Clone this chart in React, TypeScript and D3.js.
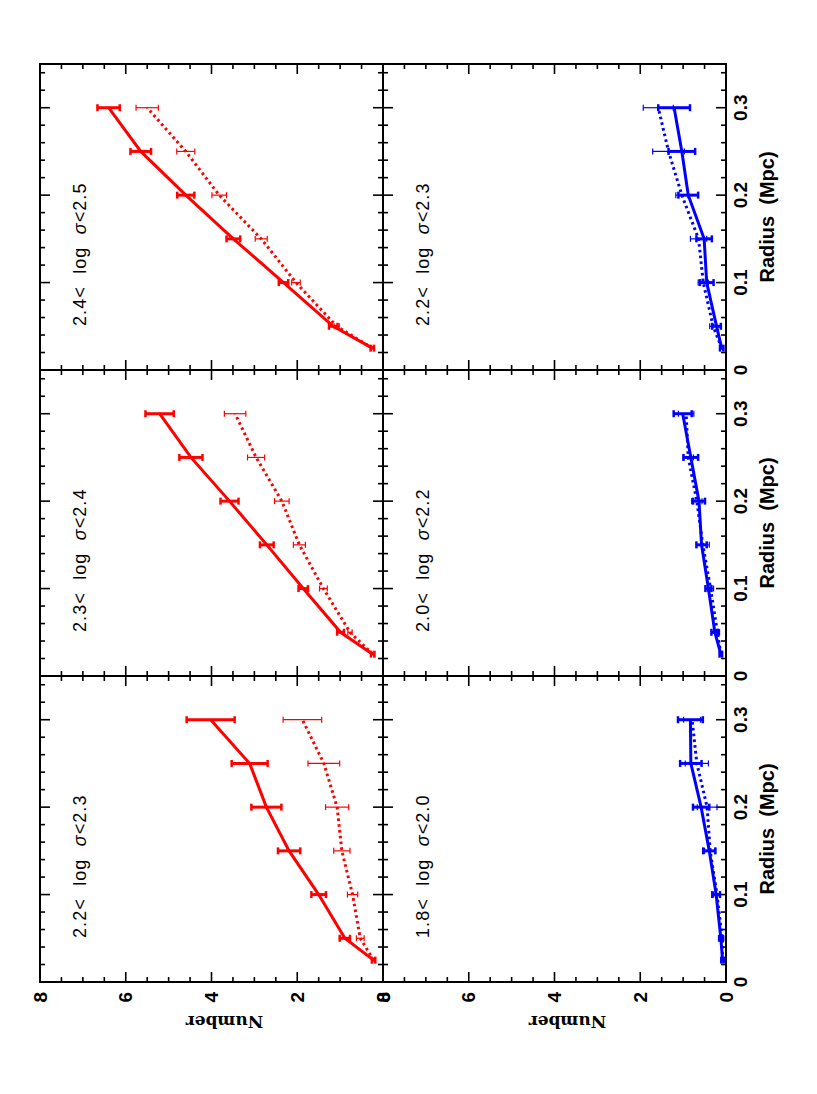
import React from 'react';
import * as d3 from 'd3';

// radius bins (Mpc)
const radius = [0.025, 0.05, 0.1, 0.15, 0.2, 0.25, 0.3];

// upper row (red) labels / lower row (blue) labels, left to right in the original landscape plot
const redLabels = ['2.2<  log  σ<2.3', '2.3<  log  σ<2.4', '2.4<  log  σ<2.5'];
const blueLabels = ['1.8<  log  σ<2.0', '2.0<  log  σ<2.2', '2.2<  log  σ<2.3'];

// red panels: solid + dotted series with errors
const redSolid1 = [0.22, 0.89, 1.5, 2.19, 2.72, 3.11, 4.02];
const redSolidErr1 = [0.04, 0.12, 0.17, 0.26, 0.35, 0.42, 0.56];
const redDot1 = [0.22, 0.53, 0.71, 0.96, 1.07, 1.38, 1.88];
const redDotErr1 = [0.03, 0.09, 0.12, 0.19, 0.27, 0.37, 0.45];

const redSolid2 = [0.24, 0.99, 1.86, 2.71, 3.58, 4.48, 5.21];
const redSolidErr2 = [0.04, 0.08, 0.11, 0.16, 0.21, 0.27, 0.33];
const redDot2 = [0.24, 0.77, 1.39, 1.95, 2.36, 2.96, 3.45];
const redDotErr2 = [0.03, 0.05, 0.09, 0.14, 0.17, 0.2, 0.25];

const redSolid3 = [0.25, 1.16, 2.32, 3.49, 4.6, 5.65, 6.4];
const redSolidErr3 = [0.04, 0.1, 0.11, 0.16, 0.2, 0.24, 0.26];
const redDot3 = [0.25, 1.08, 2.03, 2.84, 3.82, 4.6, 5.5];
const redDotErr3 = [0.03, 0.06, 0.1, 0.14, 0.17, 0.21, 0.26];

// blue panels
const blueSolid1 = [0.08, 0.12, 0.23, 0.39, 0.58, 0.82, 0.83];
const blueSolidErr1 = [0.03, 0.04, 0.09, 0.14, 0.19, 0.25, 0.29];
const blueDot1 = [0.08, 0.09, 0.21, 0.37, 0.44, 0.68, 0.79];
const blueDotErr1 = [0.02, 0.04, 0.08, 0.13, 0.23, 0.27, 0.2];

const blueSolid2 = [0.12, 0.26, 0.41, 0.57, 0.63, 0.82, 1.01];
const blueSolidErr2 = [0.03, 0.08, 0.07, 0.12, 0.14, 0.17, 0.21];
const blueDot2 = [0.12, 0.2, 0.36, 0.54, 0.68, 0.88, 0.93];
const blueDotErr2 = [0.02, 0.05, 0.07, 0.15, 0.12, 0.12, 0.18];

const blueSolid3 = [0.1, 0.22, 0.45, 0.51, 0.88, 1.03, 1.21];
const blueSolidErr3 = [0.04, 0.1, 0.16, 0.18, 0.23, 0.31, 0.37];
const blueDot3 = [0.1, 0.3, 0.53, 0.64, 1.03, 1.34, 1.58];
const blueDotErr3 = [0.03, 0.08, 0.12, 0.19, 0.14, 0.37, 0.35];

const numberTicks = [0, 2, 4, 6, 8];
const radiusTicks = [0, 0.1, 0.2, 0.3];

const RED = '#ff0000';
const BLUE = '#0000ff';

// the whole figure is a landscape plot turned 90deg counter-clockwise on the page
const colW = 306;
const rowH = 343;

const panels = [
  { col: 0, row: 0, color: RED, label: redLabels[0], solid: redSolid1, solidErr: redSolidErr1, dot: redDot1, dotErr: redDotErr1 },
  { col: 1, row: 0, color: RED, label: redLabels[1], solid: redSolid2, solidErr: redSolidErr2, dot: redDot2, dotErr: redDotErr2 },
  { col: 2, row: 0, color: RED, label: redLabels[2], solid: redSolid3, solidErr: redSolidErr3, dot: redDot3, dotErr: redDotErr3 },
  { col: 0, row: 1, color: BLUE, label: blueLabels[0], solid: blueSolid1, solidErr: blueSolidErr1, dot: blueDot1, dotErr: blueDotErr1 },
  { col: 1, row: 1, color: BLUE, label: blueLabels[1], solid: blueSolid2, solidErr: blueSolidErr2, dot: blueDot2, dotErr: blueDotErr2 },
  { col: 2, row: 1, color: BLUE, label: blueLabels[2], solid: blueSolid3, solidErr: blueSolidErr3, dot: blueDot3, dotErr: blueDotErr3 },
];

const x = d3.scaleLinear().domain([0, 0.35]).range([0, colW]);
const y = d3.scaleLinear().domain([0, 8]).range([rowH, 0]);

const xMinor = d3.range(0, 0.351, 0.02);
const yMinor = d3.range(0, 8.01, 0.5);

const Panel = ({ p }: { p: typeof panels[0] }) => {
  const line = d3.line<number>().x((_, i) => x(radius[i])).y(d => y(d));

  const errBars = (vals: number[], errs: number[], thick: boolean) =>
    vals.map((v, i) => {
      const cx = x(radius[i]);
      const y1 = y(v - errs[i]);
      const y2 = y(v + errs[i]);
      const cap = thick ? 3.5 : 3;
      return (
        <g key={i} stroke={p.color} strokeWidth={thick ? 3 : 1.2}>
          <line x1={cx} x2={cx} y1={y1} y2={y2} />
          <line x1={cx - cap} x2={cx + cap} y1={y1} y2={y1} strokeWidth={thick ? 2.5 : 1.2} />
          <line x1={cx - cap} x2={cx + cap} y1={y2} y2={y2} strokeWidth={thick ? 2.5 : 1.2} />
        </g>
      );
    });

  return (
    <g transform={`translate(${p.col * colW},${p.row * rowH})`}>
      {/* ticks */}
      <g stroke="#000" strokeWidth={1.6}>
        {xMinor.map((t, i) => {
          const len = Math.abs(t * 10 - Math.round(t * 10)) < 1e-6 ? 10 : 5;
          return (
            <g key={'x' + i}>
              <line x1={x(t)} x2={x(t)} y1={0} y2={len} />
              <line x1={x(t)} x2={x(t)} y1={rowH} y2={rowH - len} />
            </g>
          );
        })}
        {yMinor.map((t, i) => {
          const len = t % 2 === 0 ? 10 : 5;
          return (
            <g key={'y' + i}>
              <line x1={0} x2={len} y1={y(t)} y2={y(t)} />
              <line x1={colW} x2={colW - len} y1={y(t)} y2={y(t)} />
            </g>
          );
        })}
      </g>
      <rect x={0} y={0} width={colW} height={rowH} fill="none" stroke="#000" strokeWidth={2} />

      <text x={44} y={46} fontFamily="'Liberation Sans', Arial, sans-serif" fontSize={18}
        letterSpacing={1.1} style={{ whiteSpace: 'pre' }} fill="#000">
        {p.label.split('σ')[0]}
        <tspan fontStyle="italic">σ</tspan>
        {p.label.split('σ')[1]}
      </text>

      {errBars(p.dot, p.dotErr, false)}
      <path d={line(p.dot) ?? ''} fill="none" stroke={p.color} strokeWidth={3} strokeDasharray="2.6 3.2" />
      {errBars(p.solid, p.solidErr, true)}
      <path d={line(p.solid) ?? ''} fill="none" stroke={p.color} strokeWidth={3} />
    </g>
  );
};

const App = () => {
  return (
    <svg width={817} height={1094} style={{ position: 'absolute', left: 0, top: 0, background: '#fff' }}>
      <rect width={817} height={1094} fill="#fff" />
      <g transform="translate(40,982) rotate(-90)">
        {panels.map((p, i) => <Panel key={i} p={p} />)}

        {/* Number axis labels (left side of the landscape plot) */}
        {[0, 1].map(row => (
          <g key={'n' + row} transform={`translate(0,${row * rowH})`}
            fontFamily="'Liberation Sans', Arial, sans-serif" fontWeight="bold" fontSize={19}>
            {numberTicks.map(t => (
              <text key={t} x={-10} y={y(t)} textAnchor="end" dominantBaseline="central">{t}</text>
            ))}
            <text transform={`translate(-34,${rowH / 2 + 13}) rotate(-90)`} textAnchor="middle"
              fontFamily="'DejaVu Serif', serif" fontSize={17}>Number</text>
          </g>
        ))}

        {/* Radius axis labels (bottom of the landscape plot) */}
        {[0, 1, 2].map(col => (
          <g key={'r' + col} transform={`translate(${col * colW},${2 * rowH})`}
            fontFamily="'Liberation Sans', Arial, sans-serif" fontWeight="bold" textAnchor="middle">
            {radiusTicks.map(t => (
              <text key={t} x={x(t)} y={21} fontSize={19}>{t === 0 ? '0' : d3.format('.1f')(t)}</text>
            ))}
            <text x={colW / 2} y={48} fontSize={20} style={{ whiteSpace: 'pre' }}>Radius  (Mpc)</text>
          </g>
        ))}
      </g>
    </svg>
  );
};

export default App;
